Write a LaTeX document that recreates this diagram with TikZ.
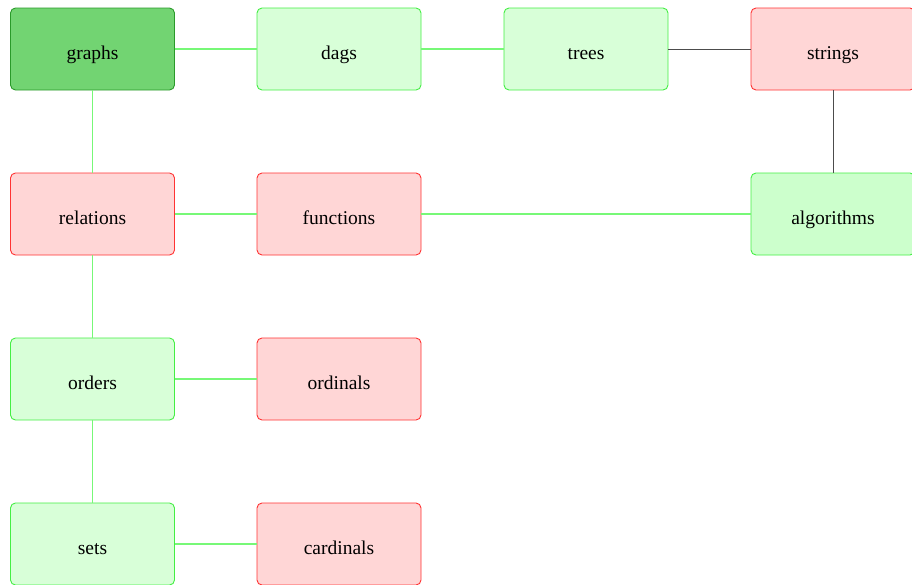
\documentclass[tikz,border=0pt]{standalone}
\usepackage{fontspec}
\setmainfont{Liberation Serif}
\usepackage{xcolor}
\definecolor{okfill}{HTML}{D8FFD8}
\definecolor{okline}{HTML}{44EE44}
\definecolor{algfill}{HTML}{CCFFCC}
\definecolor{badfill}{HTML}{FFD6D6}
\definecolor{badline}{HTML}{FF3333}
\definecolor{rootfill}{HTML}{72D472}
\definecolor{rootline}{HTML}{2A9A2A}
\definecolor{linkgreen}{HTML}{77F877}

\begin{document}
\begin{tikzpicture}[x=1pt, y=-1pt,
		box/.style={rectangle, rounded corners=5pt, line width=0.9pt, minimum width=164pt, minimum height=82pt, text height=20pt, text depth=0pt, font=\fontsize{19.5}{23}\selectfont},
		ok/.style={box, draw=okline, fill=okfill},
		bad/.style={box, draw=badline, fill=badfill},
		link/.style={linkgreen, line width=1.2pt}]
	\useasboundingbox (0,0) rectangle (912,584);
	% top row
	\node[box, draw=rootline, fill=rootfill] (graphs) at (92.5,49) {graphs};
	\node[ok] (dags) at (339,49) {dags};
	\node[ok] (trees) at (586,49) {trees};
	\node[bad] (strings) at (833,49) {strings};
	% second row
	\node[bad] (relations) at (92.5,214) {relations};
	\node[bad] (functions) at (339,214) {functions};
	\node[box, draw=okline, fill=algfill] (algorithms) at (833,214) {algorithms};
	% lower rows
	\node[ok] (orders) at (92.5,379) {orders};
	\node[bad] (ordinals) at (339,379) {ordinals};
	\node[ok] (sets) at (92.5,544) {sets};
	\node[bad] (cardinals) at (339,544) {cardinals};
	% links
	\draw[link] (graphs) -- (dags);
	\draw[link] (dags) -- (trees);
	\draw[black!70, line width=1pt] (trees) -- (strings);
	\draw[black!70, line width=1pt] (strings) -- (algorithms);
	\draw[link] (graphs) -- (relations);
	\draw[link] (relations) -- (functions);
	\draw[link] (functions) -- (algorithms);
	\draw[link] (relations) -- (orders);
	\draw[link] (orders) -- (ordinals);
	\draw[link] (orders) -- (sets);
	\draw[link] (sets) -- (cardinals);
\end{tikzpicture}
\end{document}
